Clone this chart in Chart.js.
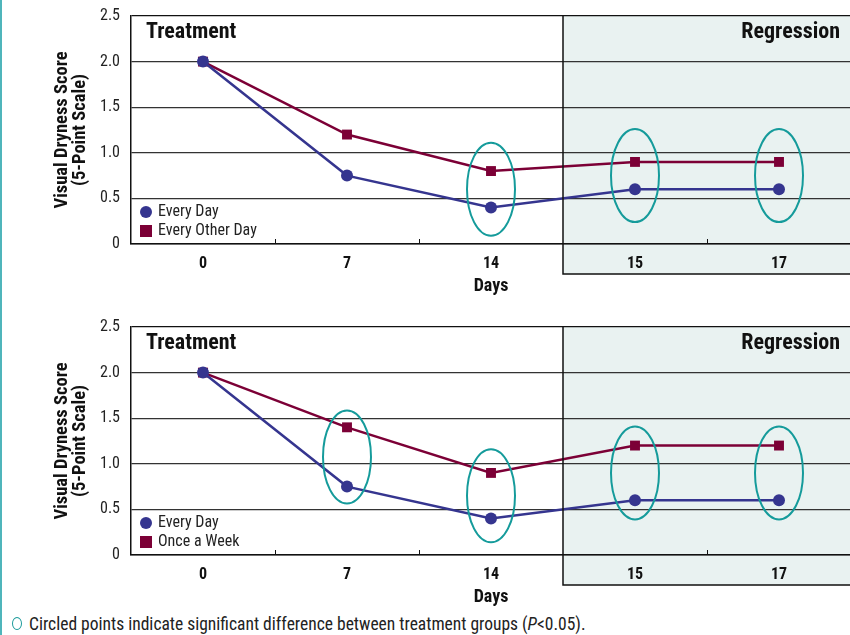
<!DOCTYPE html>
<html>
<head>
<meta charset="utf-8">
<script src="https://cdn.jsdelivr.net/npm/chart.js@4/dist/chart.umd.min.js"></script>
<style>
  html, body { margin: 0; padding: 0; background: #fff; overflow: hidden; }
  body { width: 850px; height: 635px; position: relative; font-family: "Roboto Condensed", sans-serif; }
  .edge { position: absolute; left: 0; top: 0; width: 2px; height: 635px; background: #4fb5bb; }
  .box { position: absolute; left: 0; width: 858px; height: 300px; }
  #top { top: 0; }
  #bottom { top: 311px; }
  .note { position: absolute; left: 12px; top: 614px; font-size: 17.5px; color: #222; white-space: nowrap; }
  .note .o { display: inline-block; width: 8px; height: 11px; border: 1.5px solid #1a9a9a; border-radius: 50%; margin-right: 7px; vertical-align: 0px; }
</style>
</head>
<body>
<div class="edge"></div>
<div class="box" id="top"><canvas id="c1" width="858" height="300"></canvas></div>
<div class="box" id="bottom"><canvas id="c2" width="858" height="300"></canvas></div>
<div class="note"><span class="o"></span>Circled points indicate significant difference between treatment groups (<i>P</i>&lt;0.05).</div>

<script>
// data
const days = ['0', '7', '14', '15', '17'];
const yTicks = [0, 0.5, 1.0, 1.5, 2.0, 2.5];
const everyDay1 = [2.0, 0.75, 0.4, 0.6, 0.6];
const everyOtherDay = [2.0, 1.2, 0.8, 0.9, 0.9];
const everyDay2 = [2.0, 0.75, 0.4, 0.6, 0.6];
const onceAWeek = [2.0, 1.4, 0.9, 1.2, 1.2];
const circled1 = [2, 3, 4];
const circled2 = [1, 2, 3, 4];
const regressionStart = 3; // first category of the regression phase

const FONT = '"Roboto Condensed", sans-serif';
const BLUE = '#35358f';
const RED = '#7c0036';
const TEAL = '#159b9b';
const SHADE = '#e9f2f1';

// shading, phase labels, ellipses, tick marks, legend
const decor = {
  id: 'decor',
  beforeDraw(chart) {
    const { ctx, chartArea: a, scales: { x } } = chart;
    const half = (x.getPixelForValue(1) - x.getPixelForValue(0)) / 2;
    const sx = x.getPixelForValue(regressionStart) - half;
    ctx.save();
    ctx.fillStyle = SHADE;
    ctx.fillRect(sx, a.top, chart.width - sx, 274 - a.top);
    ctx.restore();
  },
  afterDatasetsDraw(chart, args, opts) {
    const { ctx, chartArea: a, scales: { x, y } } = chart;
    const half = (x.getPixelForValue(1) - x.getPixelForValue(0)) / 2;
    const sx = x.getPixelForValue(regressionStart) - half;
    ctx.save();
    // region border
    ctx.strokeStyle = '#111';
    ctx.lineWidth = 1.5;
    ctx.beginPath();
    ctx.moveTo(sx, a.top);
    ctx.lineTo(sx, 274);
    ctx.lineTo(chart.width, 274);
    ctx.stroke();
    // small tick marks on the x axis
    ctx.lineWidth = 1;
    for (let i = 1; i < days.length; i++) {
      if (i === regressionStart) continue;
      const tx = Math.round(x.getPixelForValue(i) - half) + 0.5;
      ctx.beginPath();
      ctx.moveTo(tx, a.bottom);
      ctx.lineTo(tx, a.bottom - 5);
      ctx.stroke();
    }
    // phase labels
    ctx.fillStyle = '#111';
    ctx.font = 'bold 22px ' + FONT;
    ctx.textBaseline = 'middle';
    ctx.textAlign = 'left';
    ctx.fillText('Treatment', a.left + 15, a.top + 16);
    ctx.textAlign = 'right';
    ctx.fillText('Regression', 840, a.top + 16);
    // ellipses around significant points
    const d0 = chart.data.datasets[0].data, d1 = chart.data.datasets[1].data;
    ctx.strokeStyle = TEAL;
    ctx.lineWidth = 2;
    opts.circled.forEach(i => {
      const cx = x.getPixelForValue(i);
      const cy = (y.getPixelForValue(d0[i]) + y.getPixelForValue(d1[i])) / 2;
      ctx.beginPath();
      ctx.ellipse(cx, cy, 24, 46.5, 0, 0, Math.PI * 2);
      ctx.stroke();
    });
    // legend inside the plot
    ctx.font = '16px ' + FONT;
    ctx.textAlign = 'left';
    ctx.fillStyle = BLUE;
    ctx.beginPath();
    ctx.arc(a.left + 15, a.bottom - 32, 6, 0, Math.PI * 2);
    ctx.fill();
    ctx.fillStyle = RED;
    ctx.fillRect(a.left + 9, a.bottom - 19, 12, 12);
    ctx.fillStyle = '#222';
    ctx.fillText(chart.data.datasets[0].label, a.left + 27, a.bottom - 32);
    ctx.fillText(chart.data.datasets[1].label, a.left + 27, a.bottom - 13);
    ctx.restore();
  }
};

function makeChart(id, s1, s2, label2, circled) {
  return new Chart(document.getElementById(id), {
    type: 'line',
    data: {
      labels: days,
      datasets: [
        { label: 'Every Day', data: s1, borderColor: BLUE, backgroundColor: BLUE, borderWidth: 2.5,
          pointStyle: 'circle', pointRadius: 6, pointHoverRadius: 6, pointBorderWidth: 0, tension: 0 },
        { label: label2, data: s2, borderColor: RED, backgroundColor: RED, borderWidth: 2.5,
          pointStyle: 'rect', pointRadius: 7, pointHoverRadius: 7, pointBorderWidth: 0, tension: 0 }
      ]
    },
    options: {
      responsive: false,
      animation: false,
      events: [],
      layout: { padding: { top: 16, right: 0, bottom: 0, left: 0 } },
      plugins: { legend: { display: false }, tooltip: { enabled: false }, decor: { circled } },
      scales: {
        x: {
          offset: true,
          grid: { display: false },
          border: { color: '#111', width: 1.5 },
          ticks: { color: '#111', font: { family: FONT, size: 16, weight: 'bold' }, padding: 2 },
          title: { display: true, text: 'Days', color: '#111', font: { family: FONT, size: 18, weight: 'bold' }, padding: { top: 0, bottom: 3 } },
          afterFit(s) { s.height = 56; }
        },
        y: {
          min: 0, max: 2.5,
          afterBuildTicks(s) { s.ticks = yTicks.map(v => ({ value: v })); },
          grid: { color: c => (c.tick && (c.tick.value === 2.5)) ? '#111' : '#333', lineWidth: 1.2, drawTicks: false },
          border: { color: '#111', width: 1.5 },
          ticks: { color: '#222', font: { family: FONT, size: 16 }, padding: 11,
                   callback: v => v === 0 ? '0' : v.toFixed(1) },
          title: { display: true, text: ['Visual Dryness Score', '(5-Point Scale)'], color: '#111',
                   font: { family: FONT, size: 18.5, weight: 'bold', lineHeight: 1.0 }, padding: { top: 53, bottom: 8 } },
          afterFit(s) { s.width = 131; s.paddingTop = 0; s.paddingBottom = 0; }
        }
      }
    },
    plugins: [decor]
  });
}

Promise.all([
  document.fonts.load('15px "Roboto Condensed"'),
  document.fonts.load('bold 15px "Roboto Condensed"')
]).catch(() => {}).then(() => {
  makeChart('c1', everyDay1, everyOtherDay, 'Every Other Day', circled1);
  makeChart('c2', everyDay2, onceAWeek, 'Once a Week', circled2);
});
</script>
</body>
</html>
